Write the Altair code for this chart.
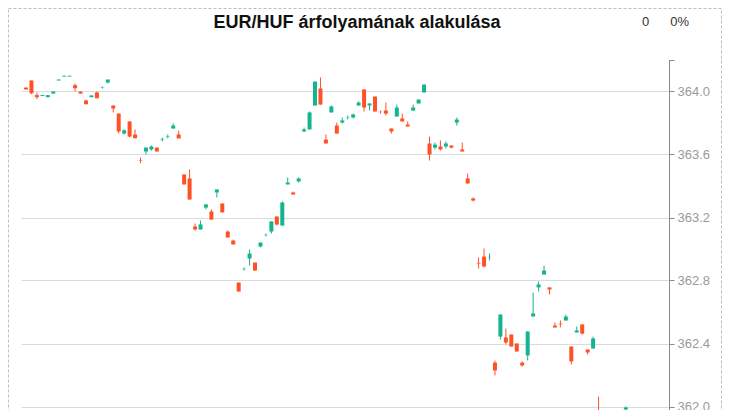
import altair as alt
import pandas as pd

# candle index (slot position), open, close, high, low
idx = list(range(0, 106)) + [110]
opens = [364.025, 364.070, 363.977, 363.971, 363.964, 363.987, 364.070, 364.095, 364.095, 364.040,
         364.000, 363.943, 363.964, 363.994, 364.024, 364.057, 363.911, 363.860, 363.733, 363.810,
         363.727, 363.565, 363.619, 363.632, 363.644, 363.694, 363.713, 363.765, 363.727, 363.473,
         363.448, 363.143, 363.124, 363.263, 363.238, 363.359, 363.289, 363.111, 363.054, 362.787,
         362.872, 362.940, 362.914, 363.016, 363.088, 363.111, 363.206, 363.149, 363.410, 363.359,
         363.429, 363.746, 363.759, 363.911, 364.019, 363.695, 363.867, 363.784, 363.803, 363.834,
         363.835, 363.911, 364.013, 363.911, 363.968, 363.871, 363.879, 363.765, 363.841, 363.829,
         363.790, 363.879, 363.924, 363.994, 363.670, 363.644, 363.651, 363.651, 363.657, 363.803,
         363.632, 363.448, 363.321, 362.912, 362.952, 362.948, 362.279, 362.444, 362.438, 362.457,
         362.400, 362.279, 362.324, 362.571, 362.756, 362.838, 362.756, 362.514, 362.526, 362.546,
         362.381, 362.470, 362.521, 362.362, 362.368, 361.960, 361.981]
closes = [364.013, 363.989, 363.964, 363.977, 363.977, 364.000, 364.076, 364.100, 364.100, 364.021,
          363.987, 363.919, 363.975, 363.957, 364.026, 364.076, 363.892, 363.746, 363.754, 363.714,
          363.703, 363.562, 363.644, 363.651, 363.619, 363.697, 363.716, 363.784, 363.702, 363.410,
          363.314, 363.124, 363.156, 363.283, 363.187, 363.378, 363.232, 363.073, 363.029, 362.730,
          362.874, 362.971, 362.863, 363.041, 363.090, 363.175, 363.156, 363.295, 363.422, 363.346,
          363.448, 363.759, 363.867, 364.063, 363.917, 363.670, 363.905, 363.733, 363.816, 363.836,
          363.854, 363.930, 363.898, 363.924, 363.873, 363.869, 363.860, 363.746, 363.898, 363.810,
          363.778, 363.898, 363.949, 364.044, 363.600, 363.663, 363.632, 363.670, 363.644, 363.822,
          363.619, 363.416, 363.308, 362.908, 362.889, 362.950, 362.229, 362.584, 362.406, 362.381,
          362.349, 362.260, 362.476, 362.590, 362.775, 362.863, 362.743, 362.502, 362.522, 362.571,
          362.286, 362.483, 362.463, 362.343, 362.432, 361.955, 361.994]
highs = [364.025, 364.070, 363.994, 363.977, 363.977, 364.000, 364.076, 364.100, 364.100, 364.051,
         364.000, 363.949, 363.975, 364.000, 364.032, 364.076, 363.911, 363.860, 363.759, 363.810,
         363.759, 363.581, 363.644, 363.657, 363.644, 363.708, 363.727, 363.797, 363.752, 363.473,
         363.505, 363.162, 363.181, 363.283, 363.251, 363.378, 363.289, 363.117, 363.060, 362.787,
         362.883, 362.997, 362.914, 363.041, 363.098, 363.175, 363.206, 363.302, 363.454, 363.365,
         363.454, 363.771, 363.873, 364.063, 364.089, 363.727, 363.911, 363.803, 363.835, 363.848,
         363.860, 363.937, 364.013, 363.924, 363.968, 363.879, 363.930, 363.765, 363.917, 363.860,
         363.810, 363.917, 363.949, 364.044, 363.714, 363.676, 363.689, 363.683, 363.657, 363.835,
         363.676, 363.479, 363.327, 362.946, 363.003, 362.971, 362.292, 362.584, 362.495, 362.457,
         362.400, 362.286, 362.476, 362.724, 362.794, 362.895, 362.756, 362.533, 362.546, 362.584,
         362.381, 362.508, 362.521, 362.362, 362.444, 362.063, 362.000]
lows = [364.013, 363.983, 363.951, 363.971, 363.964, 363.987, 364.070, 364.095, 364.095, 364.000,
        363.987, 363.919, 363.964, 363.957, 364.019, 364.051, 363.867, 363.733, 363.727, 363.708,
        363.703, 363.545, 363.600, 363.625, 363.619, 363.683, 363.702, 363.765, 363.702, 363.410,
        363.314, 363.117, 363.124, 363.251, 363.187, 363.327, 363.232, 363.073, 363.029, 362.730,
        362.863, 362.895, 362.863, 363.010, 363.079, 363.098, 363.149, 363.149, 363.410, 363.346,
        363.422, 363.746, 363.759, 363.911, 363.917, 363.670, 363.867, 363.733, 363.797, 363.822,
        363.829, 363.911, 363.873, 363.879, 363.873, 363.860, 363.848, 363.733, 363.841, 363.810,
        363.778, 363.879, 363.924, 363.994, 363.562, 363.632, 363.625, 363.638, 363.638, 363.784,
        363.619, 363.416, 363.302, 362.876, 362.883, 362.927, 362.197, 362.425, 362.394, 362.381,
        362.349, 362.254, 362.292, 362.571, 362.730, 362.838, 362.711, 362.502, 362.502, 362.546,
        362.267, 362.470, 362.457, 362.330, 362.368, 361.940, 361.975]

title_text = "EUR/HUF árfolyamának alakulása"
change_abs = "0"
change_pct = "0%"
tick_values = [362.0, 362.4, 362.8, 363.2, 363.6, 364.0]

UP = "#14b48f"
DOWN = "#ff5126"

df = pd.DataFrame({"i": idx, "open": opens, "close": closes, "high": highs, "low": lows})
df["dir"] = ["up" if c >= o else "down" for o, c in zip(opens, closes)]

W, H = 648, 378
xs = alt.Scale(domain=[0, 117], nice=False, zero=False)
ys = alt.Scale(domain=[361.8, 364.2], nice=False, zero=False)
yaxis = alt.Axis(orient="right", values=tick_values, format=".1f", grid=True,
                 gridColor="#d9dcdf", gridWidth=1, domainColor="#8a8a8a",
                 tickColor="#8a8a8a", tickSize=5, labelColor="#9a9a9a",
                 labelFontSize=13, labelFont="Liberation Sans", labelPadding=3,
                 labelOverlap=False, labelFlush=False, title=None)
col = alt.Color("dir:N", scale=alt.Scale(domain=["up", "down"], range=[UP, DOWN]), legend=None)

base = alt.Chart(df)
wicks = base.mark_rule(strokeWidth=1, clip=True).encode(
    x=alt.X("i:Q", scale=xs, axis=None),
    y=alt.Y("low:Q", scale=ys, axis=yaxis),
    y2="high:Q",
    color=col,
)
bodies = base.mark_bar(size=4, clip=True).encode(
    x=alt.X("i:Q", scale=xs, axis=None),
    y=alt.Y("open:Q", scale=ys, axis=yaxis),
    y2="close:Q",
    color=col,
)

one = pd.DataFrame({"t": [title_text]})
title = alt.Chart(one).mark_text(font="Liberation Sans", fontSize=18, fontWeight="bold",
                                 color="#111111", align="center", baseline="alphabetic").encode(
    text="t:N", x=alt.value(336), y=alt.value(-32))
t1 = alt.Chart(pd.DataFrame({"t": [change_abs]})).mark_text(
    font="Liberation Sans", fontSize=13, color="#333333", align="center", baseline="alphabetic").encode(
    text="t:N", x=alt.value(624.5), y=alt.value(-34))
t2 = alt.Chart(pd.DataFrame({"t": [change_pct]})).mark_text(
    font="Liberation Sans", fontSize=13, color="#333333", align="center", baseline="alphabetic").encode(
    text="t:N", x=alt.value(658.7), y=alt.value(-34))
toptick = alt.Chart(one).mark_rule(color="#8a8a8a", strokeWidth=1).encode(
    x=alt.value(648), x2=alt.value(653.5), y=alt.value(0.5))
border = alt.Chart(one).mark_rect(filled=False, stroke="#bdbdbd", strokeWidth=1,
                                  strokeDash=[3, 2]).encode(
    x=alt.value(-12.5), x2=alt.value(700.5), y=alt.value(-51.5), y2=alt.value(600))

chart = alt.layer(border, wicks, bodies, toptick, title, t1, t2).properties(
    width=W, height=H,
    autosize=alt.AutoSizeParams(type="none"),
    padding={"left": 13, "top": 52, "right": 53, "bottom": 10},
).configure_view(strokeWidth=0)

chart.save("out.html", embed_options={"renderer": "svg", "actions": False})
